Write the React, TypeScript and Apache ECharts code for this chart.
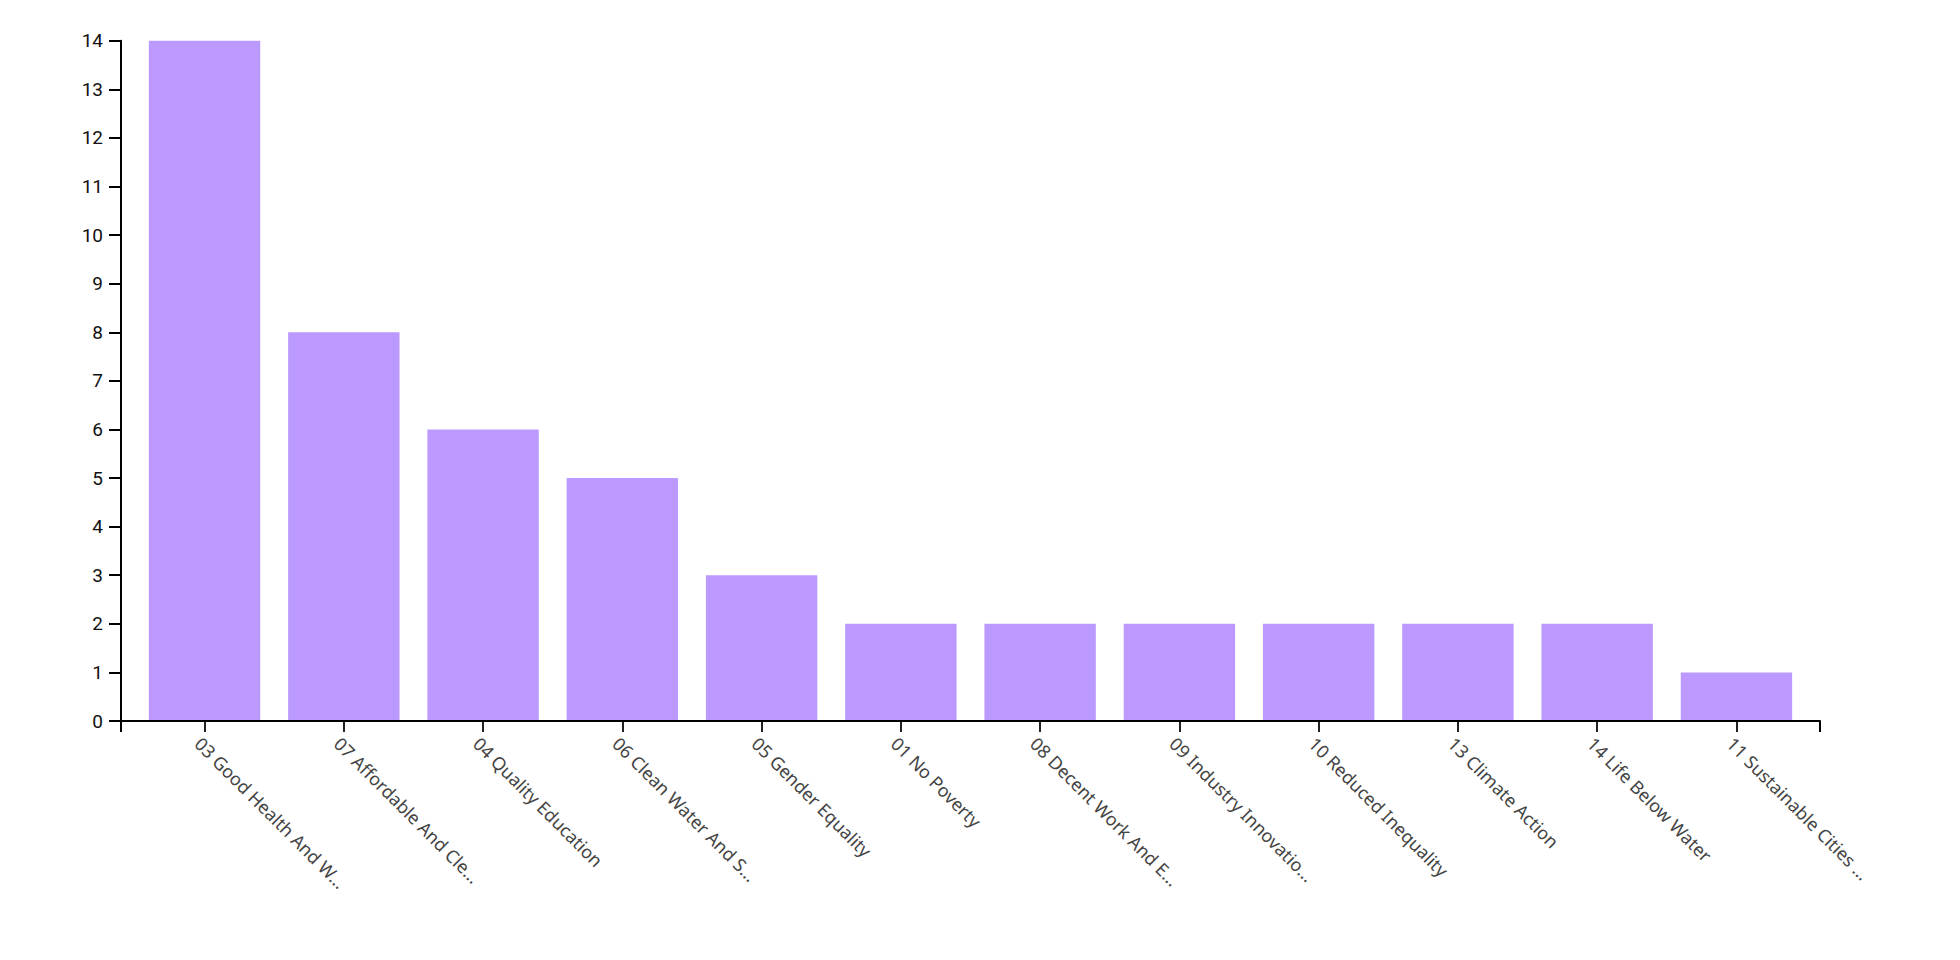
import { useEffect, useRef } from 'react'
import * as echarts from 'echarts'

// SDG categories, as shown (already truncated in the source chart)
const categories = [
  '03 Good Health And W…',
  '07 Affordable And Cle…',
  '04 Quality Education',
  '06 Clean Water And S…',
  '05 Gender Equality',
  '01 No Poverty',
  '08 Decent Work And E…',
  '09 Industry Innovatio…',
  '10 Reduced Inequality',
  '13 Climate Action',
  '14 Life Below Water',
  '11 Sustainable Cities …'
]

const counts = [14, 8, 6, 5, 3, 2, 2, 2, 2, 2, 2, 1]

const yMax = 14

export default function App() {
  const chartRef = useRef<HTMLDivElement>(null)

  useEffect(() => {
    if (!chartRef.current) return
    const chart = echarts.init(chartRef.current, null, { renderer: 'svg' })

    // frame: axis lines span the whole plot, bars sit in an inner band grid
    const left = 121
    const right = 140
    const top = 40.7
    const bottom = 239
    const step = (1960 - left - right) / (categories.length + 0.2)
    const pad = step * 0.1

    const option: echarts.EChartsOption = {
      animation: false,
      grid: [
        { left: left + pad, right: right + pad, top, bottom },
        { left, right, top, bottom }
      ],
      xAxis: [
        {
          type: 'category',
          gridIndex: 0,
          data: categories,
          axisLine: { show: false },
          axisTick: {
            show: true,
            alignWithLabel: true,
            length: 11,
            lineStyle: { color: '#222', width: 2 }
          },
          axisLabel: {
            rotate: -45,
            interval: 0,
            margin: 13,
            verticalAlign: 'top',
            fontSize: 18,
            color: '#444',
            fontFamily: 'Noto Sans'
          },
          splitLine: { show: false }
        },
        {
          type: 'value',
          gridIndex: 1,
          min: 0,
          max: 1,
          interval: 1,
          z: 10,
          axisLine: { show: true, lineStyle: { color: '#000', width: 2 } },
          axisTick: { show: true, length: 11, lineStyle: { color: '#000', width: 2 } },
          axisLabel: { show: false },
          splitLine: { show: false }
        }
      ],
      yAxis: [
        {
          type: 'value',
          gridIndex: 0,
          min: 0,
          max: yMax,
          show: false
        },
        {
          type: 'value',
          gridIndex: 1,
          min: 0,
          max: yMax,
          interval: 1,
          z: 10,
          axisLine: { show: true, lineStyle: { color: '#000', width: 2 } },
          axisTick: { show: true, length: 12, lineStyle: { color: '#000', width: 2 } },
          axisLabel: {
            margin: 18,
            fontSize: 19,
            color: '#111',
            fontFamily: 'Roboto'
          },
          splitLine: { show: false }
        }
      ],
      series: [
        {
          type: 'bar',
          xAxisIndex: 0,
          yAxisIndex: 0,
          data: counts,
          barCategoryGap: '20%',
          itemStyle: { color: '#bc99ff' }
        }
      ]
    }

    chart.setOption(option)

    return () => {
      chart.dispose()
    }
  }, [])

  return (
    <div
      ref={chartRef}
      style={{ position: 'absolute', left: 0, top: 0, width: '1960px', height: '960px' }}
    />
  )
}
